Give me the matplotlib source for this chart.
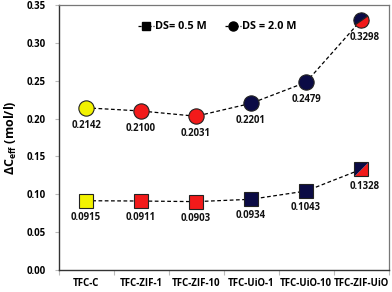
import matplotlib
matplotlib.use("Agg")
import matplotlib.pyplot as plt
from matplotlib.markers import MarkerStyle
from matplotlib.transforms import Affine2D
from matplotlib.lines import Line2D

plt.rcParams['font.family'] = ['Open Sans', 'DejaVu Sans']
plt.rcParams['font.weight'] = 'bold'
plt.rcParams['mathtext.fontset'] = 'custom'
plt.rcParams['mathtext.rm'] = 'Open Sans:bold'
plt.rcParams['mathtext.bf'] = 'Open Sans:bold'

categories = ['TFC-C', 'TFC-ZIF-1', 'TFC-ZIF-10', 'TFC-UiO-1', 'TFC-UiO-10', 'TFC-ZIF-UiO']
ds05 = [0.0915, 0.0911, 0.0903, 0.0934, 0.1043, 0.1328]
ds20 = [0.2142, 0.2100, 0.2031, 0.2201, 0.2479, 0.3298]
colors = ['#F2F200', '#F21A1A', '#F21A1A', '#0B0B45', '#0B0B45', 'split']
yticks = [0.00, 0.05, 0.10, 0.15, 0.20, 0.25, 0.30, 0.35]

RED = '#F21A1A'
NAVY = '#0B0B45'
FS = 6.9

fig = plt.figure(figsize=(3.92, 2.92), dpi=100)
ax = fig.add_axes([58.5/392, 22/292, 330/392, 265/292])

x = list(range(len(categories)))
ax.plot(x, ds05, ls=(0, (3, 2)), color='black', lw=0.9, zorder=2)
ax.plot(x, ds20, ls=(0, (3, 2)), color='black', lw=0.9, zorder=2)

tri_lr = MarkerStyle([(-1, -1), (1, -1), (1, 1), (-1, -1)])
tri_ul = MarkerStyle([(-1, -1), (-1, 1), (1, 1), (-1, -1)])

for i, c in enumerate(colors):
    if c == 'split':
        ax.plot(i, ds05[i], marker=tri_lr, ms=9.5, mfc=RED, mec='none', zorder=3)
        ax.plot(i, ds05[i], marker=tri_ul, ms=9.5, mfc=NAVY, mec='none', zorder=3)
        ax.plot(i, ds05[i], marker='s', ms=9.5, mfc='none', mec='#222222', mew=0.8, zorder=4)
        ms = MarkerStyle('o', fillstyle='top', transform=Affine2D().rotate_deg(35))
        ax.plot(i, ds20[i], marker=ms, ms=11, mfc=NAVY, mfcalt=RED, mec='#222222', mew=0.8, zorder=4)
    else:
        ax.plot(i, ds05[i], marker='s', ms=9.5, mfc=c, mec='#222222', mew=0.8, zorder=4)
        ax.plot(i, ds20[i], marker='o', ms=11, mfc=c, mec='#222222', mew=0.8, zorder=4)

for i in x:
    dx = 3 if i == len(x) - 1 else 0
    ax.annotate(f'{ds05[i]:.4f}', (i, ds05[i]), xytext=(dx, -8), textcoords='offset points',
                ha='center', va='top', fontsize=FS, fontweight='bold', color='#111111')
    ax.annotate(f'{ds20[i]:.4f}', (i, ds20[i]), xytext=(dx, -8.5), textcoords='offset points',
                ha='center', va='top', fontsize=FS, fontweight='bold', color='#111111')

ax.set_xlim(-0.5, len(categories) - 0.5)
ax.set_ylim(0, 0.35)
ax.set_yticks(yticks)
ax.set_yticklabels([f'{v:.2f}' for v in yticks])
ax.set_xticks(x)
ax.set_xticklabels(categories)
ax.set_xticks([i - 0.5 for i in range(len(categories) + 1)], minor=True)
ax.tick_params(axis='x', which='major', length=0, pad=6, labelsize=FS)
ax.tick_params(axis='x', which='minor', length=3.5, color='#BBBBBB', width=0.8)
ax.tick_params(axis='y', which='major', length=3, color='#BBBBBB', width=0.8, labelsize=FS, pad=6)
for lab in ax.get_xticklabels() + ax.get_yticklabels():
    lab.set_fontweight('bold')

for s in ['left', 'bottom']:
    ax.spines[s].set_color('#333333')
    ax.spines[s].set_linewidth(1.0)
for s in ['top', 'right']:
    ax.spines[s].set_color('#777777')
    ax.spines[s].set_linewidth(0.9)

ax.set_ylabel(r'ΔC$_{\mathrm{eff}}$ (mol/l)', fontsize=9, fontweight='bold', labelpad=6)

handles = [
    Line2D([], [], ls=(0, (2.5, 1.5)), color='black', lw=0.9, marker='s', ms=6, mfc='black', mec='black'),
    Line2D([], [], ls=(0, (2.5, 1.5)), color='black', lw=0.9, marker='o', ms=6.5, mfc='black', mec='black'),
]
ax.legend(handles, ['DS= 0.5 M', 'DS = 2.0 M'], ncol=2, frameon=False, loc='upper left',
          bbox_to_anchor=(0.21, 0.975), handlelength=1.5, handletextpad=0.15,
          columnspacing=1.6, prop={'weight': 'bold', 'size': 7.8})

fig.savefig('out.png', dpi=100)
